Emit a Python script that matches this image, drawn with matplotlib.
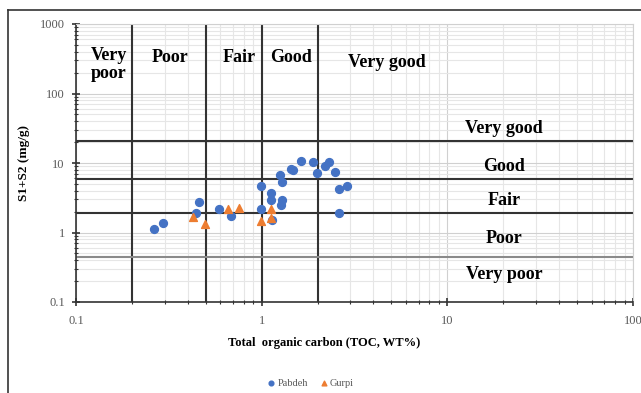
import matplotlib
matplotlib.use("Agg")
import matplotlib.pyplot as plt
from matplotlib.ticker import LogLocator, FixedLocator, NullFormatter, FixedFormatter
from matplotlib.lines import Line2D

pabdeh_toc = [0.263, 0.295, 0.444, 0.458, 0.587, 0.684, 0.995, 0.995, 1.116, 1.116, 1.137,
              1.258, 1.29, 1.27, 1.287, 1.44, 1.48, 1.62, 1.88, 1.99, 2.18, 2.30, 2.47, 2.60, 2.89, 2.61]
pabdeh_s1s2 = [1.13, 1.35, 1.90, 2.77, 2.17, 1.70, 4.6, 2.17, 3.69, 2.96, 1.49,
               6.79, 5.38, 2.5, 2.89, 8.2, 7.8, 10.6, 10.2, 7.2, 8.95, 10.3, 7.34, 4.17, 4.6, 1.88]
gurpi_toc = [0.426, 0.496, 0.662, 0.756, 0.995, 1.116, 1.12]
gurpi_s1s2 = [1.66, 1.32, 2.19, 2.24, 1.45, 2.15, 1.60]

toc_bounds = [0.2, 0.5, 1, 2]
s_bounds = [21, 5.8, 1.9]
s_bound_grey = [0.45]
toc_labels = [("Very\npoor", 0.15, 260), ("Poor", 0.32, 330), ("Fair", 0.76, 330),
              ("Good", 1.43, 330), ("Very good", 4.7, 280)]
s_labels = [("Very good", 31), ("Good", 9.0), ("Fair", 2.9), ("Poor", 0.82), ("Very poor", 0.25)]

serif = "Liberation Serif"
fig = plt.figure(figsize=(6.41, 3.93), dpi=100)
ax = fig.add_axes([76/641, 1-302/393, (633-76)/641, (302-24)/393])
ax.set_xscale("log")
ax.set_yscale("log")
ax.set_xlim(0.1, 100)
ax.set_ylim(0.1, 1000)

ax.grid(True, which="minor", color="#e6e6e6", lw=0.8)
ax.grid(True, which="major", color="#d0d0d0", lw=0.8)
ax.set_axisbelow(True)

for v in toc_bounds:
    ax.axvline(v, color="#333333", lw=1.5, zorder=2)
for v in s_bounds:
    ax.axhline(v, color="#333333", lw=1.5, zorder=2)
for v in s_bound_grey:
    ax.axhline(v, color="#8a8a8a", lw=1.5, zorder=2)

ax.scatter(pabdeh_toc, pabdeh_s1s2, marker="o", s=32, color="#4472C4", zorder=3, label="Pabdeh")
ax.scatter(gurpi_toc, gurpi_s1s2, marker="^", s=32, color="#ED7D31", zorder=3, label="Gurpi")

for t, x, y in toc_labels:
    ax.text(x, y, t, fontsize=13, fontweight="bold", family=serif,
            ha="center", va="center", linespacing=1.05)
for t, y in s_labels:
    ax.text(20.2, y, t, fontsize=13, fontweight="bold", family=serif, ha="center", va="center")

for s in ["top", "right"]:
    ax.spines[s].set_color("#d0d0d0")
for s in ["left", "bottom"]:
    ax.spines[s].set_color("#333333")
    ax.spines[s].set_linewidth(1.2)

ax.xaxis.set_major_locator(FixedLocator([0.1, 1, 10, 100]))
ax.xaxis.set_major_formatter(FixedFormatter(["0.1", "1", "10", "100"]))
ax.yaxis.set_major_locator(FixedLocator([0.1, 1, 10, 100, 1000]))
ax.yaxis.set_major_formatter(FixedFormatter(["0.1", "1", "10", "100", "1000"]))
ax.xaxis.set_minor_locator(LogLocator(base=10, subs=range(2, 10)))
ax.yaxis.set_minor_locator(LogLocator(base=10, subs=range(2, 10)))
ax.xaxis.set_minor_formatter(NullFormatter())
ax.yaxis.set_minor_formatter(NullFormatter())
ax.tick_params(which="major", direction="inout", length=6, width=1.2, color="#333333",
               labelsize=9, labelcolor="#595959")
ax.tick_params(axis="x", which="major", pad=6)
ax.tick_params(axis="y", which="major", pad=5)
ax.tick_params(which="minor", direction="inout", length=3, width=0.8, color="#333333")
for lab in ax.get_xticklabels() + ax.get_yticklabels():
    lab.set_family(serif)

ax.set_xlabel("Total  organic carbon (TOC, WT%)", fontsize=9, fontweight="bold", family=serif, labelpad=6)
ax.xaxis.set_label_coords(0.445, -0.125)
ax.set_ylabel("S1+S2 (mg/g)", fontsize=9.5, fontweight="bold", family=serif, labelpad=7)

leg = fig.legend(loc="center", bbox_to_anchor=(310/641, 1-383/393), ncol=2, frameon=False,
                 prop={"family": serif, "size": 7.5}, handletextpad=0.1, columnspacing=1.0,
                 markerscale=0.6, handlelength=1.0)
for t in leg.get_texts():
    t.set_color("#595959")

fig.add_artist(Line2D([8/641, 1], [1-9.5/393, 1-9.5/393], color="#333333", lw=1.2))
fig.add_artist(Line2D([8/641, 8/641], [0, 1-9.5/393], color="#333333", lw=1.2))

fig.savefig("out.png", dpi=100)
